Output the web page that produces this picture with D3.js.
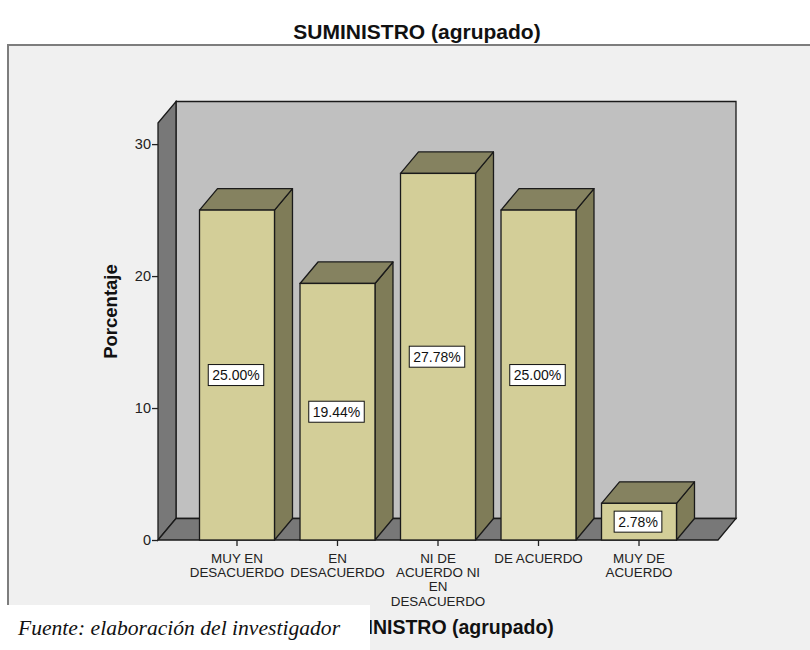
<!DOCTYPE html>
<html>
<head>
<meta charset="utf-8">
<script src="https://cdn.jsdelivr.net/npm/d3@7"></script>
<style>
  html, body { margin: 0; padding: 0; background: #ffffff; }
  svg { display: block; }
</style>
</head>
<body>
<svg id="chart" width="810" height="650"></svg>
<script>
// Frequency distribution of the grouped SUMINISTRO variable
const categories = ["MUY EN DESACUERDO", "EN DESACUERDO", "NI DE ACUERDO NI EN DESACUERDO", "DE ACUERDO", "MUY DE ACUERDO"];
const categoryLines = [["MUY EN", "DESACUERDO"], ["EN", "DESACUERDO"], ["NI DE", "ACUERDO NI", "EN", "DESACUERDO"], ["DE ACUERDO"], ["MUY DE", "ACUERDO"]];
const values = [25.00, 19.44, 27.78, 25.00, 2.78];
const yTicks = [0, 10, 20, 30];
const yMax = 31.6;

const chartTitle = "SUMINISTRO (agrupado)";
const xTitle = "SUMINISTRO (agrupado)";
const yTitle = "Porcentaje";
const source = "Fuente: elaboración del investigador";

const svg = d3.select("#chart");
const sans = "Arial, 'Liberation Sans', Helvetica, sans-serif";

// 3D depth offset of walls and bars
const dx = 18, dy = 21.5;

const x = d3.scaleBand()
  .domain(categories)
  .range([158, 718])
  .paddingInner(0.254)
  .paddingOuter(0.413);

const y = d3.scaleLinear().domain([0, yMax]).range([540, 123]);

const col = {
  panel: "#f0f0f0",
  back: "#c0c0c0",
  wall: "#787878",
  front: "#d3ce98",
  top: "#858260",
  side: "#7f7c58",
  line: "#1a1a1a"
};

// chart title
svg.append("text")
  .attr("x", 417).attr("y", 39)
  .attr("text-anchor", "middle")
  .attr("font-family", sans).attr("font-size", 21).attr("font-weight", "bold")
  .attr("fill", "#111")
  .text(chartTitle);

// outer panel
svg.append("rect")
  .attr("x", 8).attr("y", 45).attr("width", 830).attr("height", 640)
  .attr("fill", col.panel).attr("stroke", "#7d7d7d").attr("stroke-width", 2);

const x0 = x.range()[0], x1 = x.range()[1];
const yb = y(0), yt = y(yMax);
const poly = pts => pts.map(p => p.join(",")).join(" ");

// back wall
svg.append("polygon")
  .attr("points", poly([[x0 + dx, yt - dy], [x1 + dx, yt - dy], [x1 + dx, yb - dy], [x0 + dx, yb - dy]]))
  .attr("fill", col.back).attr("stroke", col.line).attr("stroke-width", 1.3);

// left wall
svg.append("polygon")
  .attr("points", poly([[x0, yt], [x0 + dx, yt - dy], [x0 + dx, yb - dy], [x0, yb]]))
  .attr("fill", col.wall).attr("stroke", col.line).attr("stroke-width", 1.3);

// floor
svg.append("polygon")
  .attr("points", poly([[x0, yb], [x0 + dx, yb - dy], [x1 + dx, yb - dy], [x1, yb]]))
  .attr("fill", col.wall).attr("stroke", col.line).attr("stroke-width", 1.3);

// bars
const data = categories.map((c, i) => ({ c, v: values[i], lines: categoryLines[i] }));
const bw = x.bandwidth();
const bars = svg.append("g").selectAll("g").data(data).join("g");

bars.append("polygon") // side face
  .attr("points", d => poly([[x(d.c) + bw, y(d.v)], [x(d.c) + bw + dx, y(d.v) - dy], [x(d.c) + bw + dx, yb - dy], [x(d.c) + bw, yb]]))
  .attr("fill", col.side).attr("stroke", col.line).attr("stroke-width", 1.3).attr("stroke-linejoin", "round");

bars.append("polygon") // top face
  .attr("points", d => poly([[x(d.c), y(d.v)], [x(d.c) + dx, y(d.v) - dy], [x(d.c) + bw + dx, y(d.v) - dy], [x(d.c) + bw, y(d.v)]]))
  .attr("fill", col.top).attr("stroke", col.line).attr("stroke-width", 1.3).attr("stroke-linejoin", "round");

bars.append("rect") // front face
  .attr("x", d => x(d.c)).attr("y", d => y(d.v))
  .attr("width", bw).attr("height", d => yb - y(d.v))
  .attr("fill", col.front).attr("stroke", col.line).attr("stroke-width", 1.3);

// value labels
const lab = bars.append("g")
  .attr("transform", d => `translate(${x(d.c) + bw / 2 - 1},${(y(d.v) + yb) / 2})`);
lab.append("text")
  .attr("text-anchor", "middle").attr("dy", "0.36em")
  .attr("font-family", sans).attr("font-size", 14).attr("fill", "#111")
  .text(d => d.v.toFixed(2) + "%");
lab.each(function () {
  const g = d3.select(this);
  const w = g.select("text").node().getComputedTextLength();
  g.insert("rect", "text")
    .attr("x", -w / 2 - 4).attr("y", -10.5)
    .attr("width", w + 8).attr("height", 21)
    .attr("fill", "#ffffff").attr("stroke", "#111").attr("stroke-width", 1);
});

// y axis
const yAxis = svg.append("g")
  .attr("transform", `translate(${x0},0)`)
  .call(d3.axisLeft(y).tickValues(yTicks).tickSize(6).tickSizeOuter(0).tickFormat(d3.format("d")));
yAxis.select(".domain").remove();
yAxis.selectAll(".tick line").attr("stroke", "#222").attr("stroke-width", 1.3);
yAxis.selectAll(".tick text")
  .attr("x", -7)
  .attr("font-family", sans).attr("font-size", 14.5).attr("fill", "#222");

// x axis ticks and wrapped category labels
const xAxis = svg.append("g")
  .attr("transform", `translate(0,${yb})`)
  .call(d3.axisBottom(x).tickSize(6).tickSizeOuter(0));
xAxis.select(".domain").remove();
xAxis.selectAll(".tick line").attr("stroke", "#222").attr("stroke-width", 1.3);
xAxis.selectAll(".tick text").remove();
xAxis.selectAll(".tick").each(function (c, i) {
  const t = d3.select(this).append("text")
    .attr("text-anchor", "middle")
    .attr("font-family", sans).attr("font-size", 13.4).attr("fill", "#222");
  categoryLines[i].forEach((s, k) => {
    t.append("tspan").attr("x", 0).attr("y", 23 + k * 14.2).text(s);
  });
});

// axis titles
svg.append("text")
  .attr("transform", `translate(117,${(yb + yt) / 2 - 20}) rotate(-90)`)
  .attr("text-anchor", "middle")
  .attr("font-family", sans).attr("font-size", 18.5).attr("font-weight", "bold").attr("fill", "#111")
  .text(yTitle);

svg.append("text")
  .attr("x", (x0 + x1) / 2 + 1).attr("y", 634)
  .attr("text-anchor", "middle")
  .attr("font-family", sans).attr("font-size", 19.5).attr("font-weight", "bold").attr("fill", "#111")
  .text(xTitle);

// source note box
svg.append("rect")
  .attr("x", 0).attr("y", 605).attr("width", 370).attr("height", 50)
  .attr("fill", "#ffffff");
svg.append("text")
  .attr("x", 18).attr("y", 635)
  .attr("font-family", "'Liberation Serif', 'Times New Roman', serif")
  .attr("font-size", 21.6).attr("font-style", "italic").attr("fill", "#111")
  .text(source);
</script>
</body>
</html>
